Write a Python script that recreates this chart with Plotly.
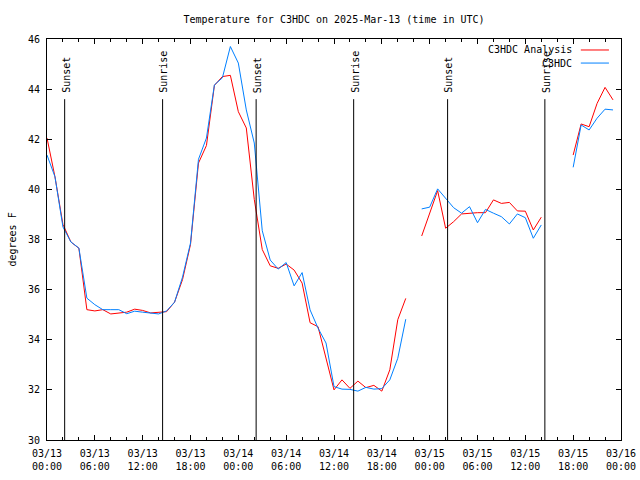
import plotly.graph_objects as go
import pandas as pd

start = "2025-03-13 00:00"
hours = list(range(72))
times = [pd.Timestamp(start) + pd.Timedelta(hours=h) for h in hours]

analysis = [42.05, 40.5, 38.6, 37.9, 37.65, 35.2, 35.15, 35.2, 35.03, 35.07,
            35.1, 35.22, 35.17, 35.07, 35.08, 35.12, 35.5, 36.4, 37.8, 41.05,
            41.75, 44.15, 44.5, 44.55, 43.1, 42.45, 39.6, 37.6, 36.95, 36.85,
            37.02, 36.78, 36.26, 34.68, 34.52, 33.2, 32.0, 32.4, 32.06, 32.35,
            32.09, 32.18, 31.95, 32.8, 34.8, 35.65, None, 38.14, 39.06, 39.95,
            38.45, 38.71, 39.02, 39.05, 39.07, 39.07, 39.58, 39.44, 39.48, 39.14,
            39.13, 38.38, 38.89, None, None, None, 41.37, 42.61, 42.5, 43.43,
            44.07, 43.57]

observed = [41.37, 40.5, 38.5, 37.9, 37.66, 35.66, 35.4, 35.2, 35.2, 35.2,
            35.04, 35.14, 35.1, 35.07, 35.03, 35.15, 35.5, 36.5, 37.86, 41.2,
            42.05, 44.17, 44.45, 45.7, 45.04, 43.17, 41.85, 38.35, 37.18, 36.82,
            37.08, 36.15, 36.68, 35.19, 34.46, 33.87, 32.13, 32.03, 32.02, 31.95,
            32.1, 32.03, 32.05, 32.4, 33.26, 34.82, None, 39.22, 39.29, 40.02,
            39.64, 39.27, 39.05, 39.31, 38.67, 39.2, 39.05, 38.91, 38.62, 39.02,
            38.87, 38.05, 38.58, None, None, None, 40.88, 42.57, 42.37, 42.84,
            43.2, 43.17]

sun_events = [("Sunset", "2025-03-13 02:13"), ("Sunrise", "2025-03-13 14:30"),
              ("Sunset", "2025-03-14 02:14"), ("Sunrise", "2025-03-14 14:28"),
              ("Sunset", "2025-03-15 02:15"), ("Sunrise", "2025-03-15 14:27")]

series_names = ["C3HDC Analysis", "C3HDC"]
series_colors = ["#ff0000", "#0080ff"]

FONT = "DejaVu Sans Mono"
SZ = 10
W, H = 640, 480

fig = go.Figure()
fig.add_trace(go.Scatter(x=times, y=analysis, mode="lines", name=series_names[0],
                         line=dict(color=series_colors[0], width=1), connectgaps=False))
fig.add_trace(go.Scatter(x=times, y=observed, mode="lines", name=series_names[1],
                         line=dict(color=series_colors[1], width=1), connectgaps=False))

line_top = 43.6
for label, t in sun_events:
    fig.add_shape(type="line", xref="x", yref="y", x0=t, x1=t, y0=30, y1=line_top,
                  line=dict(color="black", width=1))
    fig.add_annotation(x=t, y=line_top, xref="x", yref="y", text=label, textangle=-90,
                       showarrow=False, xanchor="center", yanchor="bottom", yshift=4, xshift=1,
                       font=dict(family=FONT, size=SZ, color="black"))

# legend (gnuplot style: text right-aligned, sample on right)
leg_rows = [0.9726, 0.940]
for name, color, yp in zip(series_names, series_colors, leg_rows):
    fig.add_annotation(x=0.918, y=yp, xref="paper", yref="paper", text=name, showarrow=False,
                       xanchor="right", yanchor="middle", font=dict(family=FONT, size=SZ, color="black"))
    fig.add_shape(type="line", xref="paper", yref="paper", x0=0.930, x1=0.979, y0=yp, y1=yp,
                  line=dict(color=color, width=1))

fig.add_annotation(x=0, y=0.5, xref="paper", yref="paper", text="degrees F", textangle=-90,
                   showarrow=False, xanchor="center", yanchor="middle", xshift=-35,
                   font=dict(family=FONT, size=SZ, color="black"))

fig.update_layout(
    width=W, height=H,
    margin=dict(l=47, r=19, t=39, b=40, autoexpand=False),
    paper_bgcolor="white", plot_bgcolor="white",
    showlegend=False,
    title=dict(text="Temperature for C3HDC on 2025-Mar-13 (time in UTC)", x=0.522, xanchor="center",
               y=1 - 19 / H, yanchor="middle", font=dict(family=FONT, size=SZ, color="black")),
    font=dict(family=FONT, size=SZ, color="black"),
)
fig.update_xaxes(
    range=["2025-03-13 00:00", "2025-03-16 00:00"], automargin=False,
    tickformat="%m/%d<br>%H:%M", dtick=6 * 3600 * 1000, tick0="2025-03-13 00:00",
    ticks="inside", ticklen=5, tickcolor="black", mirror="allticks",
    showline=True, linecolor="black", linewidth=1, showgrid=False, zeroline=False,
    minor=dict(ticks="inside", ticklen=3, dtick=2 * 3600 * 1000, tickcolor="black", showgrid=False),
    tickfont=dict(family=FONT, size=SZ, color="black"), ticklabelstandoff=4,
)
fig.update_yaxes(
    range=[30, 46], dtick=2, tick0=30, automargin=False,
    ticks="inside", ticklen=5, tickcolor="black", mirror="allticks",
    showline=True, linecolor="black", linewidth=1, showgrid=False, zeroline=False,
    tickfont=dict(family=FONT, size=SZ, color="black"), ticklabelstandoff=4,
)

fig.write_html("out.html", config={"displayModeBar": False},
               post_script="document.body.style.margin='0px';document.body.style.overflow='hidden';")
